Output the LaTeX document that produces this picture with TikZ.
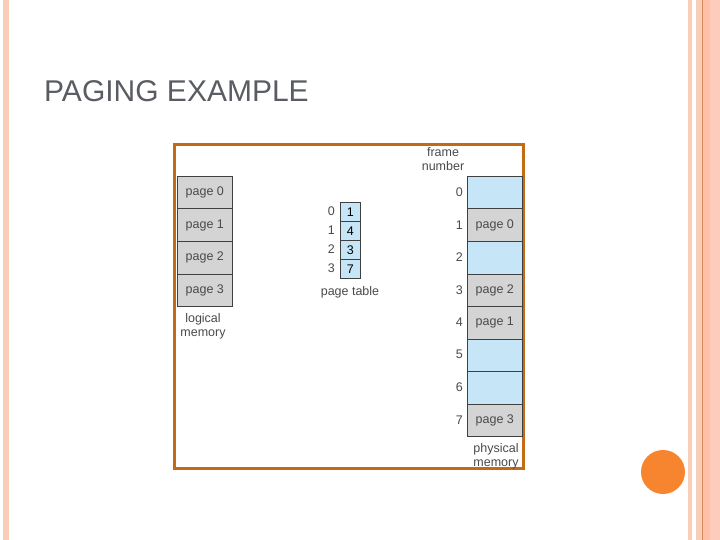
\documentclass[tikz,border=0pt]{standalone}
\usepackage{fontspec}
\setmainfont{Liberation Sans}
\definecolor{stripe}{HTML}{F9CDB8}
\definecolor{stripeB}{HTML}{FFC0A8}
\definecolor{stripeC}{HTML}{FFCBBB}
\definecolor{stripeline}{HTML}{D9895E}
\definecolor{framec}{HTML}{C46A14}
\definecolor{greyc}{HTML}{D4D4D4}
\definecolor{bluec}{HTML}{C6E6F8}
\definecolor{titlec}{HTML}{5A5C63}
\definecolor{dotc}{HTML}{F7852F}
\definecolor{txtc}{HTML}{4A4A4A}
\begin{document}
\begin{tikzpicture}[x=1pt,y=-1pt,
  cell/.style={draw=black!75,line width=0.6pt,minimum width=55pt,inner sep=0pt,font=\fontsize{12.5}{13}\selectfont,text=txtc},
  gcell/.style={cell,fill=greyc},
  bcell/.style={cell,fill=bluec},
  tcell/.style={draw=black!75,line width=0.6pt,fill=bluec,minimum width=20pt,minimum height=19pt,inner sep=0pt,font=\fontsize{12.5}{13}\selectfont},
  lbl/.style={font=\fontsize{12.5}{13}\selectfont,text=txtc,inner sep=0pt},
  captxt/.style={font=\fontsize{12.5}{14}\selectfont,text=txtc,align=center,inner sep=0pt}]
\useasboundingbox (0,0) rectangle (720,540);
% side stripes
\fill[stripe] (3,0) rectangle (9,540);
\fill[stripe] (688,0) rectangle (692,540);
\fill[stripe] (696,0) rectangle (702,540);
\fill[stripeB] (703,0) rectangle (710,540);
\fill[stripeC] (710,0) rectangle (720,540);
\fill[stripeline] (702,0) rectangle (703,540);
% title
\node[anchor=base west,inner sep=0pt,text=titlec,font=\fontsize{30}{31}\selectfont] (title) at (44,102) {PAGING EXAMPLE};
% orange dot
\fill[dotc] (663,472) circle (22);
% frame
\draw[framec,line width=3pt] (174.5,144.5) rectangle (523.5,468.5);
% logical memory
\foreach \i/\y in {0/176,1/208.5,2/241,3/273.5}{
  \node[gcell,minimum height=32.5pt,anchor=north west] (lm\i) at (177,\y) {page \i};
}
\node[captxt,anchor=north] (lmcap) at (203,313) {logical\\memory};
% page table
\foreach \i/\v/\y in {0/1/202,1/4/221,2/3/240,3/7/259}{
  \node[tcell,anchor=north west] (pt\i) at (340,\y) {\v};
  \node[lbl,anchor=east] (pi\i) at (335,\y+9.5) {\i};
}
\node[lbl,anchor=north] (ptcap) at (350,286) {page table};
% physical memory
\foreach \i/\t/\s in {0//bcell,1/page 0/gcell,2//bcell,3/page 2/gcell,4/page 1/gcell,5//bcell,6//bcell,7/page 3/gcell}{
  \node[\s,minimum height=32.5pt,anchor=north west] (pm\i) at (467,176+\i*32.5) {\t};
  \node[lbl,anchor=east] (fn\i) at (463,192.25+\i*32.5) {\i};
}
\node[captxt,anchor=south] (fncap) at (443,171) {frame\\number};
\node[captxt,anchor=north] (pmcap) at (496,443) {physical\\memory};
\end{tikzpicture}
\end{document}
